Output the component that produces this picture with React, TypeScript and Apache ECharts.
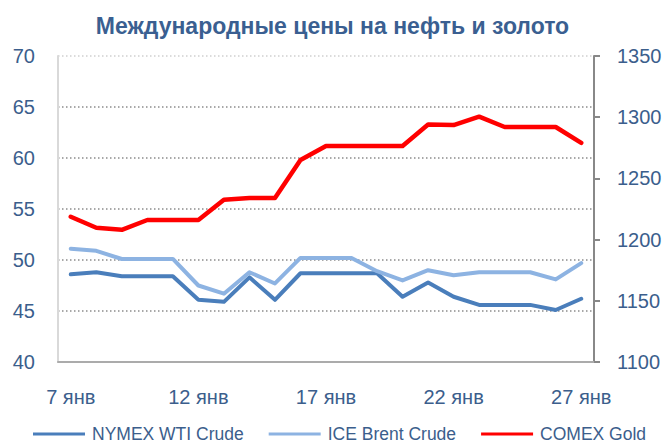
import React, { useEffect, useRef } from "react";
import * as echarts from "echarts";

const categories = [
  "7 янв", "8 янв", "9 янв", "10 янв", "11 янв", "12 янв", "13 янв",
  "14 янв", "15 янв", "16 янв", "17 янв", "18 янв", "19 янв", "20 янв",
  "21 янв", "22 янв", "23 янв", "24 янв", "25 янв", "26 янв", "27 янв",
];

const wti = [48.6, 48.8, 48.4, 48.4, 48.4, 46.1, 45.9, 48.3, 46.1, 48.7, 48.7, 48.7, 48.7, 46.4, 47.8, 46.4, 45.6, 45.6, 45.6, 45.1, 46.2];
const brent = [51.1, 50.9, 50.1, 50.1, 50.1, 47.5, 46.7, 48.8, 47.7, 50.2, 50.2, 50.2, 48.9, 48.0, 49.0, 48.5, 48.8, 48.8, 48.8, 48.1, 49.7];
const gold = [1218.7, 1209.7, 1208, 1216, 1216, 1216, 1232.6, 1234, 1234, 1265, 1276.5, 1276.5, 1276.5, 1276.5, 1294, 1293.6, 1300.4, 1292, 1292, 1292, 1279];

const seriesNames = ["NYMEX WTI Crude", "ICE Brent Crude", "COMEX Gold"];
const titleText = "Международные цены на нефть и золото";

const TEXT = "#3b5e8c";
const FONT = "'Liberation Sans', Arial, sans-serif";

export default function App() {
  const ref = useRef<HTMLDivElement>(null);
  useEffect(() => {
    if (!ref.current) return;
    const chart = echarts.init(ref.current, undefined, { renderer: "svg" });
    const lineBase = { cap: "round", join: "round" };
    chart.setOption({
      animation: false,
      backgroundColor: "#ffffff",
      textStyle: { fontFamily: FONT },
      title: {
        text: titleText,
        left: "center",
        top: 9,
        textStyle: { fontFamily: FONT, fontSize: 23, fontWeight: "bold", color: "#3a5f91" },
      },
      legend: {
        left: 33,
        top: 425,
        width: 630,
        padding: 0,
        icon: "rect",
        itemWidth: 52,
        itemHeight: 3,
        itemGap: 25,
        textStyle: { fontFamily: FONT, fontSize: 17.5, color: TEXT, padding: [0, 0, 0, 2] },
        data: seriesNames,
      },
      grid: {
        left: 58,
        right: 71,
        top: 56,
        bottom: 86,
        containLabel: false,
        outerBoundsMode: "none",
        outerBounds: { left: -100, right: -100, top: -100, bottom: -100 },
      },
      xAxis: {
        type: "category",
        data: categories,
        boundaryGap: true,
        axisLine: { show: true, lineStyle: { color: "#ababab", width: 2 } },
        axisTick: { show: false },
        axisLabel: { interval: 4, margin: 25, fontSize: 20, color: TEXT, fontFamily: FONT },
        splitLine: { show: false },
      },
      yAxis: [
        {
          type: "value",
          min: 40,
          max: 70,
          interval: 5,
          position: "left",
          axisLine: { show: true, lineStyle: { color: "#d9d9d9", width: 2 } },
          axisTick: { show: false },
          axisLabel: { margin: 23, fontSize: 20, color: TEXT, fontFamily: FONT },
          splitLine: {
            show: true,
            lineStyle: {
              color: ["#8c8c8c", "#8c8c8c", "#8c8c8c", "#8c8c8c", "#8c8c8c", "#8c8c8c", "#d0d0d0"],
              width: 1.5,
              type: [1.5, 2.5],
            },
          },
        },
        {
          type: "value",
          min: 1100,
          max: 1350,
          interval: 50,
          position: "right",
          axisLine: { show: true, lineStyle: { color: "#888888", width: 2 } },
          axisTick: { show: true, inside: false, length: 6, lineStyle: { color: "#888888", width: 2 } },
          axisLabel: {
            margin: 23,
            fontSize: 20,
            color: TEXT,
            fontFamily: FONT,
            formatter: (v: number) => String(v),
          },
          splitLine: { show: false },
        },
      ],
      series: [
        {
          name: seriesNames[0],
          type: "line",
          yAxisIndex: 0,
          data: wti,
          symbol: "none",
          color: "#4a7ebb",
          lineStyle: { ...lineBase, width: 4, color: "#4a7ebb" },
          z: 2,
        },
        {
          name: seriesNames[1],
          type: "line",
          yAxisIndex: 0,
          data: brent,
          symbol: "none",
          color: "#8db3e2",
          lineStyle: { ...lineBase, width: 4, color: "#8db3e2" },
          z: 3,
        },
        {
          name: seriesNames[2],
          type: "line",
          yAxisIndex: 1,
          data: gold,
          symbol: "none",
          color: "#ff0000",
          lineStyle: { ...lineBase, width: 4.5, color: "#ff0000" },
          z: 4,
        },
      ],
    });
    return () => chart.dispose();
  }, []);
  return <div ref={ref} style={{ width: 665, height: 448, position: "absolute", left: 0, top: 0 }} />;
}
